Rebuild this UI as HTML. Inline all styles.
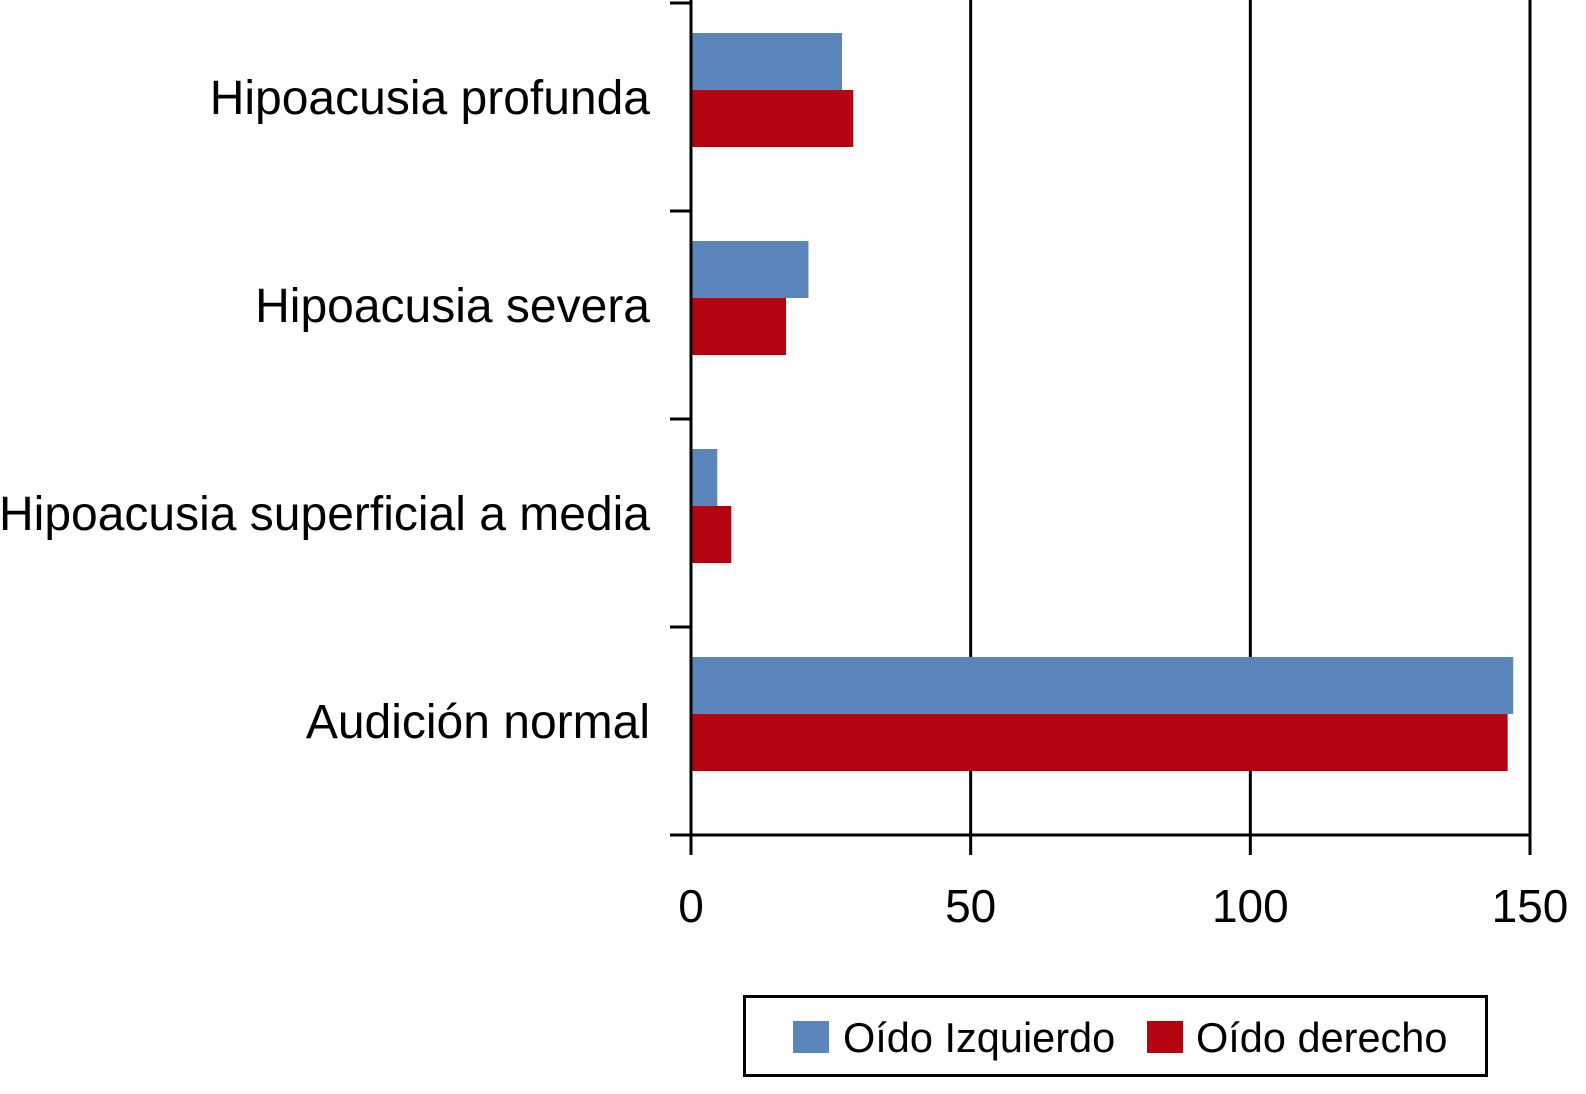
<!DOCTYPE html>
<html><head><meta charset="utf-8"><style>
html,body{margin:0;padding:0;background:#fff;}
svg text{font-family:"Liberation Sans",Arial,sans-serif;fill:#000;}
</style></head><body>
<svg id="chart" width="1586" height="1089" xmlns="http://www.w3.org/2000/svg">
<g id="grid"></g>
<g id="bars"></g>
<g id="axes"></g>
<g id="labels"></g>
<g>
<rect x="744.5" y="996.5" width="742" height="79" fill="none" stroke="#000" stroke-width="3"/>
<rect x="793" y="1021" width="36" height="32" fill="#5a86bb"/>
<text x="843" y="1052" font-size="41.5">Oído Izquierdo</text>
<rect x="1147" y="1021" width="36" height="32" fill="#b5040f"/>
<text x="1196" y="1052" font-size="41.5">Oído derecho</text>
</g>
</svg>
<script>
const categories=["Hipoacusia profunda","Hipoacusia severa","Hipoacusia superficial a media","Audición normal"];
const leftEar=[27,21,4.7,147];
const rightEar=[29,17,7.2,146];
const xTicks=[0,50,100,150];
(function(){
const NS="http://www.w3.org/2000/svg";
const x0=691,x1=1530,xMax=150,plotTop=3,plotBottom=835;
const xs=v=>x0+(x1-x0)*v/xMax;
const band=(plotBottom-plotTop)/categories.length;
function mk(tag,attrs,parent){const e=document.createElementNS(NS,tag);for(const k in attrs)e.setAttribute(k,attrs[k]);parent.appendChild(e);return e;}
const grid=document.getElementById('grid'),bars=document.getElementById('bars'),axes=document.getElementById('axes'),labels=document.getElementById('labels');
xTicks.forEach((t)=>{
  const g=mk('line',{x1:xs(t),x2:xs(t),y1:(t>0?0:plotBottom),y2:855,stroke:'#000','stroke-width':3},grid);
  
  
  const tx=mk('text',{x:xs(t),y:922,'font-size':46,'text-anchor':'middle'},labels);
  tx.textContent=t;
  
  
});
categories.forEach((c,i)=>{
  const y=plotTop+band*i;
  const b1=mk('rect',{x:x0,y:y+30,width:xs(leftEar[i])-x0,height:57,fill:'#5a86bb'},bars);
  
  
  const b2=mk('rect',{x:x0,y:y+87,width:xs(rightEar[i])-x0,height:57,fill:'#b5040f'},bars);
  
  
  const t=mk('text',{x:650,y:y+band/2+7,'font-size':48,'text-anchor':'end'},labels);
  t.textContent=c;
  
  
});
for(let i=0;i<=categories.length;i++){
  const y=plotTop+band*i;
  const tk=mk('line',{x1:670,x2:x0,y1:y,y2:y,stroke:'#000','stroke-width':3},axes);
  
  
}
const ya=mk('line',{x1:x0,x2:x0,y1:0,y2:855,stroke:'#000','stroke-width':3},axes);


const xa=mk('line',{x1:670,x2:x1,y1:plotBottom,y2:plotBottom,stroke:'#000','stroke-width':3},axes);


})();
</script>
</body></html>
